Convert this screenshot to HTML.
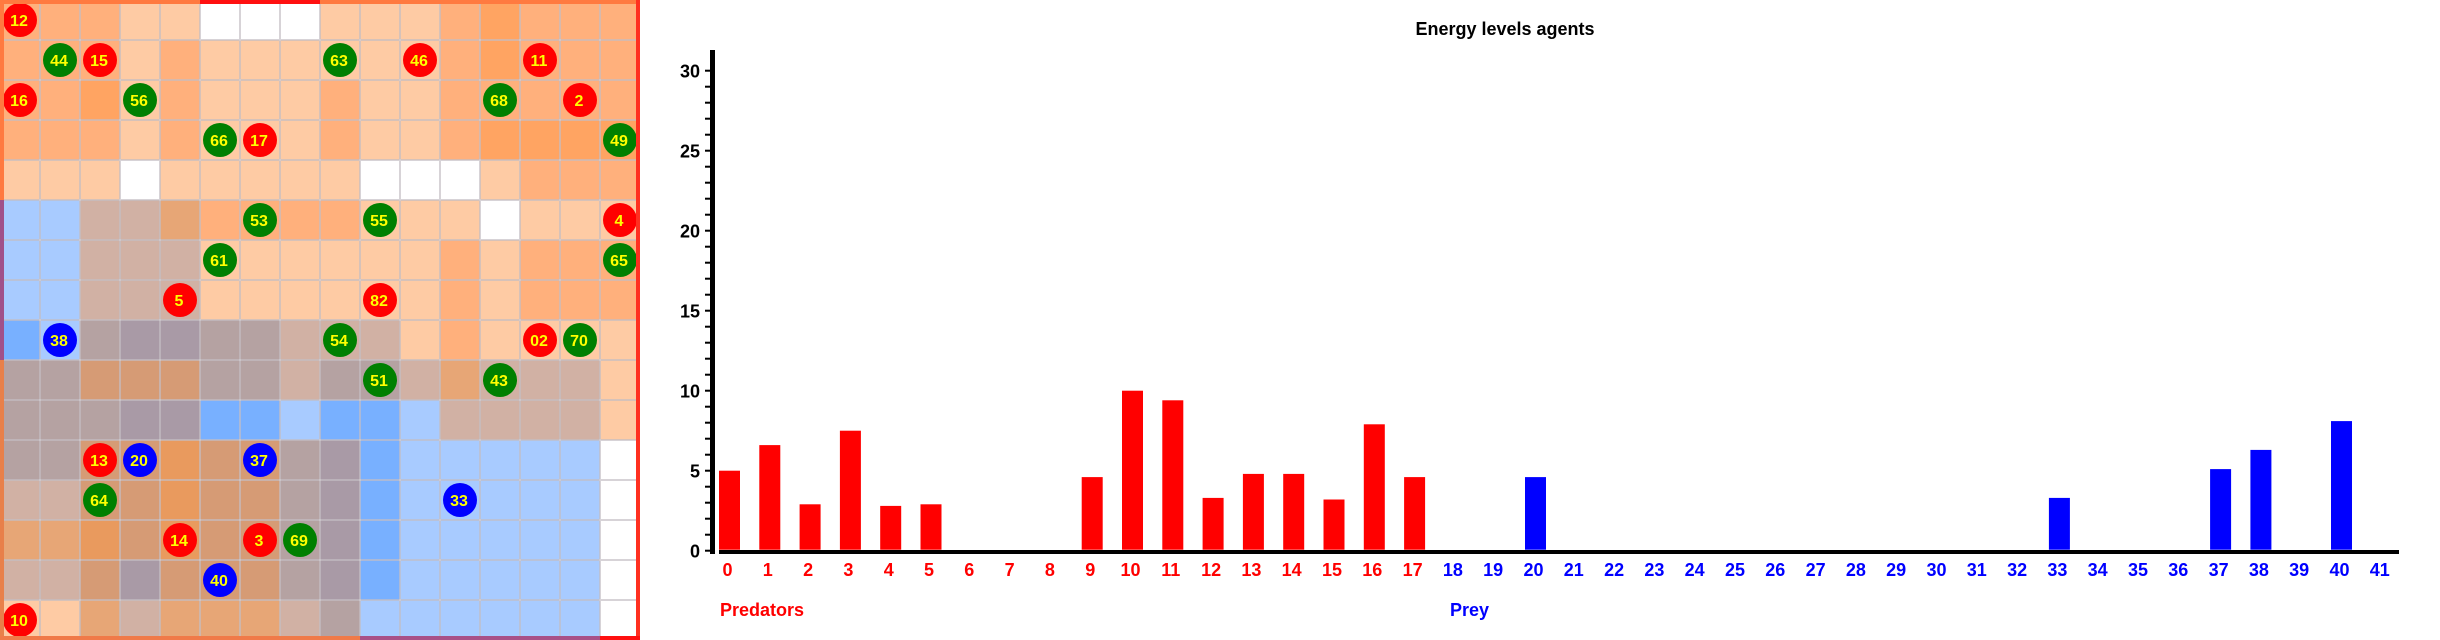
<!DOCTYPE html>
<html><head><meta charset="utf-8"><style>
html,body{margin:0;padding:0;background:#fff;width:2440px;height:640px;overflow:hidden}
svg{display:block}
text{font-family:"Liberation Sans",sans-serif;font-weight:bold}
</style></head><body>
<svg id="root" width="2440" height="640" xmlns="http://www.w3.org/2000/svg">
<g id="grid"></g>
<g id="agents"></g>
<g id="frame">
<rect x="0" y="0" width="640" height="4" fill="#ff7a40"/>
<rect x="200" y="0" width="120" height="4" fill="#ff1010"/>
<rect x="0" y="0" width="4" height="200" fill="#ff7a40"/>
<rect x="0" y="200" width="4" height="160" fill="#a0508a"/>
<rect x="0" y="360" width="4" height="280" fill="#e8804a"/>
<rect x="636" y="0" width="4" height="640" fill="#ff3020"/>
<rect x="0" y="636" width="360" height="4" fill="#f07a48"/>
<rect x="360" y="636" width="240" height="4" fill="#a85088"/>
<rect x="600" y="636" width="40" height="4" fill="#ff1010"/>
</g>
<g id="chart">
<text x="1505" y="35" text-anchor="middle" font-size="18">Energy levels agents</text>
<g id="yaxis"></g>
<g id="bars"></g>
<g id="xaxis"></g>
<text x="720" y="616" font-size="18" fill="#ff0000">Predators</text>
<text x="1450" y="616" font-size="18" fill="#0000ff">Prey</text>
</g>
</svg>
<script>
// ---- chart data ----
const categories = ["0","1","2","3","4","5","6","7","8","9","10","11","12","13","14","15","16","17","18","19","20","21","22","23","24","25","26","27","28","29","30","31","32","33","34","35","36","37","38","39","40","41"];
const predatorValues = [5.0,6.6,2.9,7.5,2.8,2.9,0,0,0,4.6,10.0,9.4,3.3,4.8,4.8,3.2,7.9,4.6];
const preyValues = [0,0,4.6,0,0,0,0,0,0,0,0,0,0,0,0,3.3,0,0,0,5.1,6.3,0,8.1,0];
const yTicks = [0,5,10,15,20,25,30];

// ---- grid data ----
const cellRows = [
"BBBAAWWWAAABCBBB",
"BBBABAAAAAABCBBB",
"BBCABAAABAABBBBB",
"BBBABAAABAABCCCC",
"AAAWAAAAAWWWABBB",
"LLGGEBBBBAAAWAAA",
"LLGGGAAAAAABABBB",
"LLGGGAAAAAABABBB",
"MLHPPHHGGGABAAAA",
"HHOOOHHGHHGEGGGA",
"HHHPPMMLMMLGGGGA",
"HHOOFOOHPMLLLLLW",
"GGOOFOOHPMLLLLLW",
"EEFOFOOHPMLLLLLW",
"GGOPOOOHPMLLLLLW",
"AAEGEEEGHLLLLLLW"];
const palette = {A:"#fecba4",B:"#ffb07c",C:"#ffa462",W:"#ffffff",L:"#a8cbff",M:"#78b0ff",G:"#d1b1a4",H:"#b5a2a2",P:"#a99aa6",O:"#d69b75",E:"#e7a676",F:"#e99a5e"};
const agentCols = [0,1,2,8,10,13,0,3,12,14,5,6,15,6,9,15,5,15,4,9,1,8,13,14,9,12,2,3,6,2,11,4,6,7,5,0];
const agentRows = [0,1,1,1,1,1,2,2,2,2,3,3,3,5,5,5,6,6,7,7,8,8,8,8,9,9,11,11,11,12,12,13,13,13,14,15];
const agentKinds = ["r","g","r","g","r","r","r","g","g","r","g","r","g","g","g","r","g","g","r","r","b","g","r","g","g","g","r","b","b","g","b","r","r","g","b","r"];
const agentLabels = ["12","44","15","63","46","11","16","56","68","2","66","17","49","53","55","4","61","65","5","82","38","54","02","70","51","43","13","20","37","64","33","14","3","69","40","10"];

const NS="http://www.w3.org/2000/svg";
function mk(tag,attrs,parent){const e=document.createElementNS(NS,tag);for(const k in attrs)e.setAttribute(k,attrs[k]);parent.appendChild(e);return e;}

// grid
const grid=document.getElementById('grid');
const CS=40;
cellRows.forEach((row,r)=>{for(let c=0;c<16;c++){
  const el=mk('rect',{x:c*CS+0.5,y:r*CS+0.5,width:CS-1,height:CS-1,fill:palette[row[c]],stroke:"rgba(140,130,140,0.35)","stroke-width":1},grid);
  
  
}});
const kindColor={r:"#ff0000",g:"#008000",b:"#0000ff"};
const ag=document.getElementById('agents');
agentLabels.forEach((lab,i)=>{
  const cx=agentCols[i]*CS+20, cy=agentRows[i]*CS+20;
  const g=mk('g',{},ag);
  
  
  mk('circle',{cx:cx,cy:cy,r:17,fill:kindColor[agentKinds[i]]},g);
  const t=mk('text',{x:cx-1,y:cy+6,"text-anchor":"middle","font-size":"16",fill:"#ffff00"},g);
  t.textContent=lab;
});

// chart axes
const X0=719, STEP=40.3, BW=21, Y0=550.7, UNIT=16;
const xPos=i=>X0+i*STEP;
const yPos=v=>Y0-v*UNIT;
const ya=document.getElementById('yaxis');
mk('rect',{x:710,y:50,width:5,height:504,fill:"#000"},ya);
for(let v=0;v<=30;v++){
  const tk=mk('rect',{x:705,y:yPos(v)-1,width:6,height:2,fill:"#000"},ya);
  
  
}
yTicks.forEach(v=>{
  const t=mk('text',{x:700,y:yPos(v)+7,"text-anchor":"end","font-size":"18",fill:"#000"},ya);
  
  
  t.textContent=v;
});
const xa=document.getElementById('xaxis');
mk('rect',{x:719,y:550,width:1680,height:4,fill:"#000"},xa);
categories.forEach((c,i)=>{
  const t=mk('text',{x:xPos(i)+BW/2-2,y:576,"text-anchor":"middle","font-size":"18",fill:i<predatorValues.length?"#ff0000":"#0000ff"},xa);
  
  
  t.textContent=c;
});
const bars=document.getElementById('bars');
const allVals=predatorValues.concat(preyValues);
allVals.forEach((v,i)=>{
  if(v<=0)return;
  const b=mk('rect',{x:xPos(i),y:yPos(v),width:BW,height:v*UNIT-1,fill:i<predatorValues.length?"#ff0000":"#0000ff"},bars);
  
  
});
</script>
</body></html>
